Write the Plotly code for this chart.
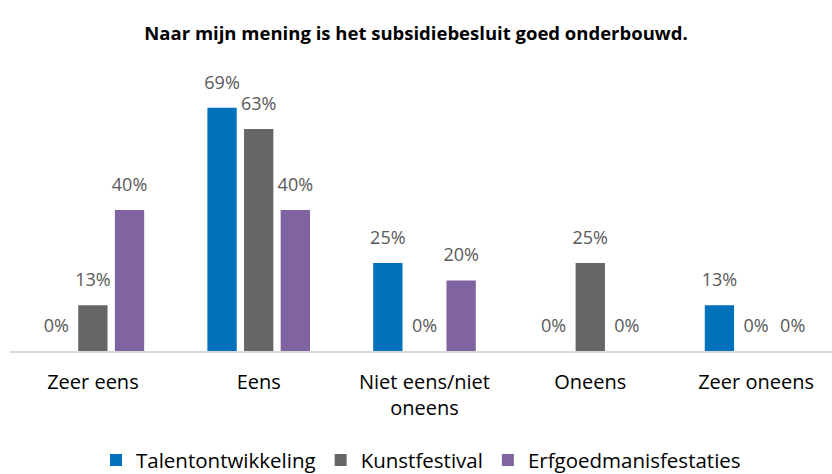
import plotly.graph_objects as go

categories = ["Zeer eens", "Eens", "Niet eens/niet<br>oneens", "Oneens", "Zeer oneens"]
series_names = ["Talentontwikkeling", "Kunstfestival", "Erfgoedmanisfestaties"]
talent = [0, 69, 25, 0, 13]
kunst = [13, 63, 0, 25, 0]
erfgoed = [40, 40, 20, 0, 0]
colors = ["#0072BC", "#666666", "#8064A2"]

FONT = "Open Sans, sans-serif"
GAP = 0.337

fig = go.Figure()
for name, vals, col in zip(series_names, [talent, kunst, erfgoed], colors):
    fig.add_trace(go.Bar(
        x=categories, y=[v / 100 for v in vals], name=name,
        marker=dict(color=col, line=dict(width=0)),
        hoverinfo="skip",
    ))
for name, vals in zip(series_names, [talent, kunst, erfgoed]):
    fig.add_trace(go.Scatter(
        x=categories, y=[v / 100 for v in vals], name=name + " labels",
        mode="markers+text", marker=dict(size=22, opacity=0),
        text=[f"{v}%" for v in vals], textposition="top center",
        textfont=dict(color="#595959", size=18, family=FONT),
        cliponaxis=False, showlegend=False, hoverinfo="skip",
    ))

fig.update_layout(
    width=832, height=474,
    margin=dict(l=10, r=0, t=69, b=123),
    plot_bgcolor="white", paper_bgcolor="white",
    barmode="group", bargap=GAP, bargroupgap=0.2,
    scattermode="group", scattergap=GAP,
    title=dict(text="<b>Naar mijn mening is het subsidiebesluit goed onderbouwd.</b>",
               x=0.5, xanchor="center", y=0.930, yanchor="middle",
               font=dict(size=18.5, color="black", family=FONT)),
    font=dict(family=FONT),
    xaxis=dict(showline=True, linecolor="#D9D9D9", linewidth=1.5,
               range=[-0.5, 4.458],
               tickfont=dict(size=20, color="black", family=FONT), ticks="",
               ticklabelstandoff=12),
    yaxis=dict(range=[0, 0.8], visible=False, showgrid=False),
    legend=dict(orientation="h", x=0.5, xanchor="center",
                yref="container", y=0.029, yanchor="middle",
                font=dict(size=20.5, color="black", family=FONT), traceorder="normal",
                itemwidth=30),
    showlegend=True,
)

fig.write_html("out.html", config={"displayModeBar": False},
               post_script="document.body.style.margin='0';")
